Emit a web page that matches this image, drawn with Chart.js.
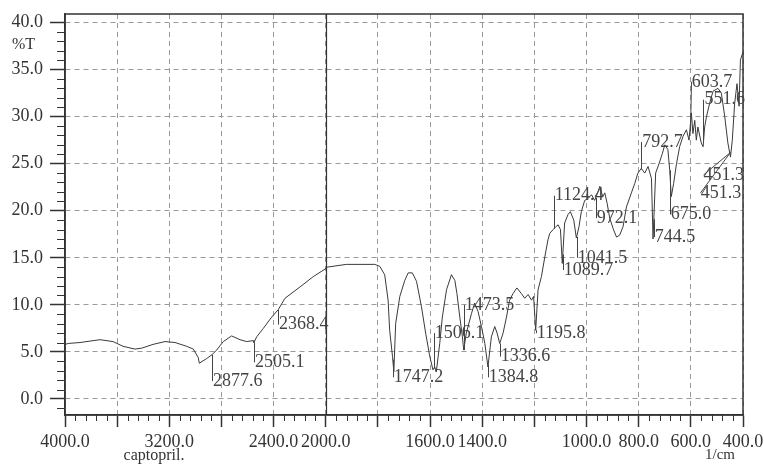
<!DOCTYPE html>
<html>
<head>
<meta charset="utf-8">
<script src="https://cdn.jsdelivr.net/npm/chart.js@4.4.0/dist/chart.umd.min.js"></script>
<style>
  html, body { margin: 0; padding: 0; background: #fff; }
  canvas { display: block; }
</style>
</head>
<body>
<canvas id="irChart" width="764" height="471"></canvas>
<script>
// IR spectrum of captopril: wavenumber (1/cm) and %T
const wavenumbers = [
  4000, 3975, 3885, 3732, 3632, 3555, 3463, 3412, 3325, 3233, 3156, 3067, 3016, 2978, 2970,
  2913, 2873, 2837, 2786, 2722, 2658, 2607, 2556, 2551, 2530, 2479, 2415, 2364, 2313, 2198,
  2096, 2006, 1997, 1921, 1812, 1793, 1774, 1761, 1755, 1744, 1739, 1732, 1716, 1697, 1684,
  1668, 1652, 1633, 1617, 1601, 1589, 1582, 1576, 1563, 1553, 1537, 1518, 1505, 1497, 1486,
  1476, 1471, 1461, 1441, 1429, 1416, 1403, 1390, 1378, 1365, 1352, 1343, 1333, 1320, 1307,
  1295, 1282, 1267, 1250, 1237, 1224, 1211, 1203, 1195, 1186, 1173, 1160, 1148, 1141, 1128,
  1118, 1109, 1100, 1093, 1084, 1071, 1062, 1049, 1039, 1029, 1020, 1007, 994, 981, 969,
  960, 949, 938, 930, 921, 911, 898, 885, 873, 860, 847, 828, 815, 803, 790,
  777, 764, 751, 745, 735, 722, 709, 700, 688, 681, 675, 666, 655, 643, 630,
  617, 607, 598, 592, 585, 579, 573, 560, 553, 547, 540, 528, 515, 496, 483,
  470, 458, 448, 441, 432, 423, 415, 410, 402, 400
];
const transmittance = [
  5.8, 5.9, 6.0, 6.3, 6.1, 5.6, 5.3, 5.4, 5.8, 6.1, 6.0, 5.6, 5.3, 4.4, 3.8,
  4.3, 4.7, 5.2, 6.1, 6.7, 6.3, 6.1, 6.2, 6.0, 6.6, 7.5, 8.7, 9.5, 10.7, 11.9,
  13.0, 13.8, 14.0, 14.3, 14.3, 14.1, 13.2, 10.5, 7.3, 4.5, 2.9, 8.0, 10.9, 12.6, 13.4,
  13.4, 12.5, 9.8, 7.0, 4.5, 3.1, 3.4, 2.9, 5.9, 8.7, 11.6, 13.2, 12.6, 11.2, 8.7,
  6.6, 5.2, 7.0, 9.1, 10.2, 9.3, 7.7, 5.9, 3.4, 6.6, 7.7, 7.0, 5.9, 7.0, 8.7,
  10.5, 11.2, 11.8, 11.2, 10.7, 11.1, 10.5, 10.9, 7.3, 11.6, 13.0, 15.1, 16.9, 17.6, 18.0,
  18.3, 18.5, 18.0, 14.4, 18.7, 19.6, 19.9, 19.0, 17.1, 18.3, 19.9, 21.1, 21.3, 21.7, 21.1,
  21.7, 22.6, 21.5, 21.9, 20.8, 19.2, 18.1, 17.2, 17.4, 18.3, 20.4, 21.9, 22.9, 24.0, 24.5,
  24.0, 24.7, 23.4, 17.0, 24.0, 25.0, 26.1, 27.0, 26.5, 24.3, 21.5, 22.9, 25.0, 26.8, 27.9,
  28.6, 27.5, 30.4, 28.2, 29.6, 27.5, 28.9, 27.2, 26.8, 28.9, 30.0, 31.4, 32.7, 33.0, 32.5,
  30.0, 27.2, 25.7, 27.5, 31.4, 33.5, 31.1, 36.0, 36.7, 36.9
];

// tick values: %T on the left, labelled wavenumbers on the bottom
const yTickValues = [0, 5, 10, 15, 20, 25, 30, 35, 40];
const xTickLabels = [4000, 3200, 2400, 2000, 1600, 1400, 1000, 800, 600, 400];

// peak markers: text, where the marker leaves the curve, where the text sits
const peakText   = ['2877.6', '2505.1', '2368.4', '1747.2', '1506.1', '1473.5', '1384.8', '1336.6', '1195.8', '1089.7',
                    '1041.5', '1124.4', '972.1', '792.7', '744.5', '675.0', '603.7', '551.6', '451.3', '451.3'];
const peakWn     = [2873, 2551, 2366, 1743, 1586, 1471, 1379, 1333, 1195, 1091,
                    1038, 1126, 965, 792.7, 742, 681, 604, 551.6, 451.3, 451.3];
const peakTextWn = [2873, 2551, 2366, 1743, 1586, 1471, 1379, 1333, 1195, 1091,
                    1038, 1126, 965, 790, 742, 681, 600, 551.6, 555, 566];
const peakTextT  = [1.9, 3.9, 7.9, 2.3, 7.0, 10.0, 2.3, 4.5, 7.0, 13.7,
                    15.0, 21.6, 19.2, 27.3, 17.2, 19.6, 33.7, 31.8, 23.8, 21.9];

// the axis is compressed 2:1 above 2000 1/cm
function toU(w) { return w >= 2000 ? (4000 - w) / 2 : 1000 + (2000 - w); }
function fromU(u) { return u <= 1000 ? 4000 - 2 * u : 2000 - (u - 1000); }

function valueAt(w) {
  for (let i = 0; i < wavenumbers.length - 1; i++) {
    const a = wavenumbers[i], b = wavenumbers[i + 1];
    if (w <= a && w >= b) {
      const t = a === b ? 0 : (a - w) / (a - b);
      return transmittance[i] + t * (transmittance[i + 1] - transmittance[i]);
    }
  }
  return transmittance[transmittance.length - 1];
}

const FONT = '"Liberation Serif", "Times New Roman", serif';
const INK = '#333';
const GRID = '#9a9a9a';
const U_MAX = 2600;

const points = wavenumbers.map((w, i) => ({ x: toU(w), y: transmittance[i] }));

const decor = {
  id: 'decor',
  afterDatasetsDraw(chart) {
    const { ctx, chartArea: a } = chart;
    const x = chart.scales.x, y = chart.scales.y;
    ctx.save();

    // solid break line at 2000
    const xd = Math.round(x.getPixelForValue(toU(2000))) + 0.5;
    ctx.strokeStyle = INK;
    ctx.lineWidth = 1.2;
    ctx.beginPath();
    ctx.moveTo(xd, a.top);
    ctx.lineTo(xd, a.bottom);
    ctx.stroke();

    // frame
    ctx.lineWidth = 1.5;
    ctx.strokeRect(a.left, a.top, a.right - a.left, a.bottom - a.top);

    // minor ticks
    ctx.lineWidth = 1;
    ctx.beginPath();
    for (let v = -1; v <= 40; v++) {
      if (v % 5 === 0) continue;
      const py = Math.round(y.getPixelForValue(v)) + 0.5;
      ctx.moveTo(a.left - 8, py);
      ctx.lineTo(a.left, py);
    }
    for (let u = 0; u <= U_MAX; u += 40) {
      if (u % 200 === 0) continue;
      const px = Math.round(x.getPixelForValue(u)) + 0.5;
      ctx.moveTo(px, a.bottom);
      ctx.lineTo(px, a.bottom + 6);
    }
    ctx.stroke();

    // peak markers
    ctx.strokeStyle = '#444';
    ctx.lineWidth = 1;
    ctx.fillStyle = '#444';
    ctx.font = '18px ' + FONT;
    ctx.textAlign = 'left';
    ctx.textBaseline = 'middle';
    peakText.forEach((t, i) => {
      const x1 = x.getPixelForValue(toU(peakWn[i]));
      const y1 = y.getPixelForValue(valueAt(peakWn[i]));
      const x2 = x.getPixelForValue(toU(peakTextWn[i]));
      const y2 = y.getPixelForValue(peakTextT[i]);
      ctx.beginPath();
      ctx.moveTo(Math.round(x1) + 0.5, y1);
      ctx.lineTo(Math.round(x2) + 0.5, y2);
      ctx.stroke();
      ctx.fillText(t, x2 + 1, y2);
    });

    // axis captions
    ctx.fillStyle = INK;
    ctx.font = '16px ' + FONT;
    ctx.textAlign = 'right';
    ctx.fillText('%T', a.left - 30, y.getPixelForValue(37.6));
    ctx.textAlign = 'center';
    ctx.fillText('captopril.', a.left + 89, chart.height - 15);
    ctx.font = '15px ' + FONT;
    ctx.textAlign = 'right';
    ctx.fillText('1/cm', a.right - 8, chart.height - 16);
    ctx.restore();
  }
};

new Chart(document.getElementById('irChart'), {
  type: 'line',
  data: {
    datasets: [{
      data: points,
      borderColor: '#3a3a3a',
      borderWidth: 1,
      pointRadius: 0,
      tension: 0,
      fill: false
    }]
  },
  options: {
    responsive: false,
    animation: false,
    events: [],
    layout: { padding: { left: 0, top: 14, right: 21, bottom: 0 } },
    plugins: { legend: { display: false }, tooltip: { enabled: false } },
    scales: {
      x: {
        type: 'linear', position: 'bottom',
        min: 0, max: U_MAX,
        afterBuildTicks: (s) => {
          const t = [];
          for (let u = 0; u <= U_MAX; u += 200) t.push({ value: u });
          s.ticks = t;
        },
        ticks: {
          autoSkip: false, maxRotation: 0, padding: 4,
          color: INK, font: { family: FONT, size: 18 },
          callback: (u) => xTickLabels.includes(fromU(u)) ? fromU(u).toFixed(1) : ''
        },
        grid: { color: GRID, lineWidth: 1, tickLength: 12, tickColor: INK, tickWidth: 1.5 },
        border: { display: true, color: INK, width: 1.5, dash: [5, 4] },
        afterFit: (s) => { s.height = 56; s.paddingLeft = 0; s.paddingRight = 0; }
      },
      y: {
        type: 'linear', position: 'left',
        min: -1.7, max: 40.9,
        afterBuildTicks: (s) => { s.ticks = yTickValues.map(v => ({ value: v })); },
        ticks: {
          padding: 7, color: INK, font: { family: FONT, size: 18 },
          callback: (v) => v.toFixed(1)
        },
        grid: { color: GRID, tickColor: INK, lineWidth: 1, tickLength: 15, tickWidth: 1.5 },
        border: { display: true, color: INK, width: 1.5, dash: [5, 4] },
        afterFit: (s) => { s.width = 65; s.paddingTop = 0; s.paddingBottom = 0; }
      }
    }
  },
  plugins: [decor]
});
</script>
</body>
</html>
